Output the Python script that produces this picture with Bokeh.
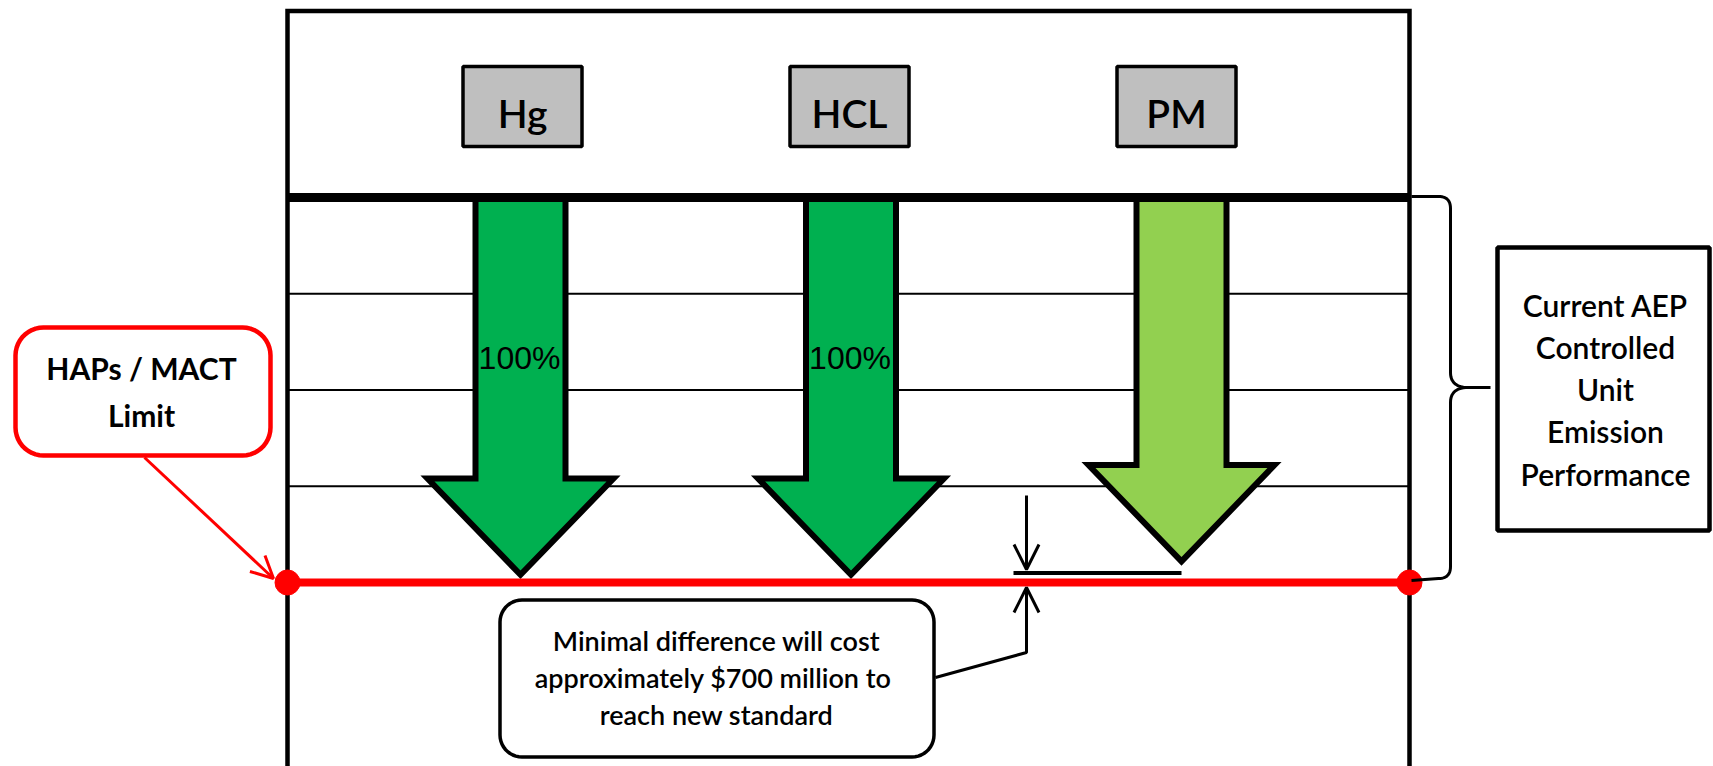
import numpy as np
from bokeh.plotting import figure
from bokeh.models import Range1d, Arrow, OpenHead
from bokeh.core.properties import value
from bokeh.embed import file_html
from bokeh.resources import INLINE

# ---------------- data ----------------
categories = ["Hg", "HCL", "PM"]
reduction_pct = [100, 100, 96.5]          # how far each arrow reaches (0 = current, 100 = MACT limit)
arrow_labels = ["100%", "100%", ""]
arrow_colors = ["#00B050", "#00B050", "#92D050"]
grid_pct = [25, 50, 75]
limit_label = ["HAPs / MACT", "Limit"]
brace_label = ["Current AEP", "Controlled", "Unit", "Emission", "Performance"]
callout_label = ["Minimal difference will cost",
                 "approximately  $700 million to",
                 "reach new standard"]

# ---------------- figure (data coords == page pixels) ----------------
W, H = 1713, 766
p = figure(width=W, height=H, x_range=Range1d(0, W), y_range=Range1d(H, 0),
           x_axis_type=None, y_axis_type=None, toolbar_location=None,
           output_backend="svg", min_border=0, outline_line_color=None,
           background_fill_color="white", border_fill_color="white")
# percent scale: 0% at current performance line, 100% at the limit line
TOP0, LIM = 197.0, 582.0
k = (LIM - TOP0) / 100.0
p.extra_y_ranges = {"pct": Range1d(start=(H - TOP0) / k, end=(0 - TOP0) / k)}

LEFT, RIGHT = 287, 1409
FONT = value("Lato Semibold, Lato")
TY = -11  # text baseline correction

def qbez(a, c, b, n=14):
    t = np.linspace(0, 1, n)
    x = (1 - t) ** 2 * a[0] + 2 * (1 - t) * t * c[0] + t ** 2 * b[0]
    y = (1 - t) ** 2 * a[1] + 2 * (1 - t) * t * c[1] + t ** 2 * b[1]
    return list(x), list(y)

def rounded(x0, y0, x1, y1, r, n=12):
    xs, ys = [], []
    corners = [(x1 - r, y0 + r, -np.pi / 2, 0), (x1 - r, y1 - r, 0, np.pi / 2),
               (x0 + r, y1 - r, np.pi / 2, np.pi), (x0 + r, y0 + r, np.pi, 1.5 * np.pi)]
    for cx_, cy_, a0, a1 in corners:
        a = np.linspace(a0, a1, n)
        xs += list(cx_ + r * np.cos(a))
        ys += list(cy_ + r * np.sin(a))
    return xs, ys

# main frame
p.line([LEFT, LEFT, RIGHT, RIGHT], [790, 10.5, 10.5, 790], line_color="black",
       line_width=4.5, line_join="miter")

# thin level lines
p.segment(x0=LEFT, x1=RIGHT, y0=grid_pct, y1=grid_pct, line_color="black",
          line_width=2, y_range_name="pct")

# arrow centres and header box centres
n = len(categories)
cx = [520 + i * 330.5 for i in range(n)]
box_cx = [522 + i * 327 for i in range(n)]

# header boxes
p.rect(x=box_cx, y=106, width=119, height=80, fill_color="#BFBFBF",
       line_color="black", line_width=3.5)
p.text(x=box_cx, y=123 + TY, text=categories, text_font=FONT, text_font_size="39px",
       text_align="center", text_baseline="alphabetic", text_color="black")

# arrows
shaft_hw, head_hw, head_h = 45, 93, 25
axs, ays = [], []
for c, v in zip(cx, reduction_pct):
    tip = v - 2
    base = tip - head_h
    axs.append([c - shaft_hw, c + shaft_hw, c + shaft_hw, c + head_hw, c, c - head_hw, c - shaft_hw])
    ays.append([0, 0, base, base, tip, base, base])
p.patches(axs, ays, fill_color=arrow_colors, line_color="black", line_width=6,
          line_join="miter", y_range_name="pct")
p.text(x=[c - 1 for c in cx], y=368 + TY, text=arrow_labels, text_font=value("Liberation Sans"),
       text_font_size="32px", text_align="center", text_baseline="alphabetic",
       text_color="black")

# current performance line
p.segment(x0=LEFT, x1=RIGHT, y0=0, y1=0, line_color="black", line_width=9,
          y_range_name="pct")

# limit line
p.segment(x0=LEFT, x1=RIGHT, y0=100, y1=100, line_color="#FF0000", line_width=8,
          y_range_name="pct")
p.scatter(x=[LEFT, RIGHT], y=[100, 100], size=25, fill_color="#FF0000",
          line_color="#FF0000", y_range_name="pct")

# brace
bx, by = [1411, 1438], [196, 196]
x_, y_ = qbez((1438, 196), (1450, 196), (1450, 208)); bx += x_; by += y_
bx += [1450]; by += [372]
x_, y_ = qbez((1450, 372), (1450, 387), (1468, 387)); bx += x_; by += y_
bx += [1490]; by += [387]
p.line(bx, by, line_color="black", line_width=3)
bx2, by2 = [1468], [387]
x_, y_ = qbez((1468, 387), (1450, 387), (1450, 402)); bx2 += x_; by2 += y_
bx2 += [1450]; by2 += [566]
x_, y_ = qbez((1450, 566), (1450, 578), (1438, 578)); bx2 += x_; by2 += y_
bx2 += [1411]; by2 += [580]
p.line(bx2, by2, line_color="black", line_width=3)

# right label box
p.quad(left=1497, right=1709, top=247, bottom=530, fill_color="white",
       line_color="black", line_width=4.5)
p.text(x=1605, y=[315 + TY + 42.3 * i for i in range(len(brace_label))], text=brace_label,
       text_font=FONT, text_font_size="30px", text_align="center",
       text_baseline="alphabetic", text_color="black")

# shortfall marker
gap_y = reduction_pct[2] + 1
p.segment(x0=1013, x1=cx[2], y0=gap_y, y1=gap_y, line_color="black", line_width=4,
          y_range_name="pct")
p.add_layout(Arrow(x_start=1026, y_start=495, x_end=1026, y_end=569,
                   line_color="black", line_width=3,
                   end=OpenHead(size=25, line_color="black", line_width=3)))
p.line([935, 1026, 1026], [677, 652, 600], line_color="black", line_width=3)
p.add_layout(Arrow(x_start=1026, y_start=620, x_end=1026, y_end=587,
                   line_color="black", line_width=3,
                   end=OpenHead(size=25, line_color="black", line_width=3)))

# callout box
rx, ry = rounded(499.5, 599.5, 933.5, 756.5, 22)
p.patch(rx, ry, fill_color="white", line_color="black", line_width=3.5)
p.text(x=716, y=[651 + TY + 37 * i for i in range(len(callout_label))], text=callout_label,
       text_font=FONT, text_font_size="27px", text_align="center",
       text_baseline="alphabetic", text_color="black")

# limit label box
hx, hy = rounded(15, 327, 270, 455, 28)
p.patch(hx, hy, fill_color="white", line_color="#FF0000", line_width=4.5)
p.text(x=141, y=[378 + TY, 425 + TY], text=limit_label, text_font=value("Lato"),
       text_font_size="30px", text_font_style="bold", text_align="center",
       text_baseline="alphabetic", text_color="black")
p.add_layout(Arrow(x_start=144, y_start=457, x_end=273, y_end=578,
                   line_color="#FF0000", line_width=3,
                   end=OpenHead(size=22, line_color="#FF0000", line_width=3)))

open("out.html", "w").write(file_html(p, INLINE))
